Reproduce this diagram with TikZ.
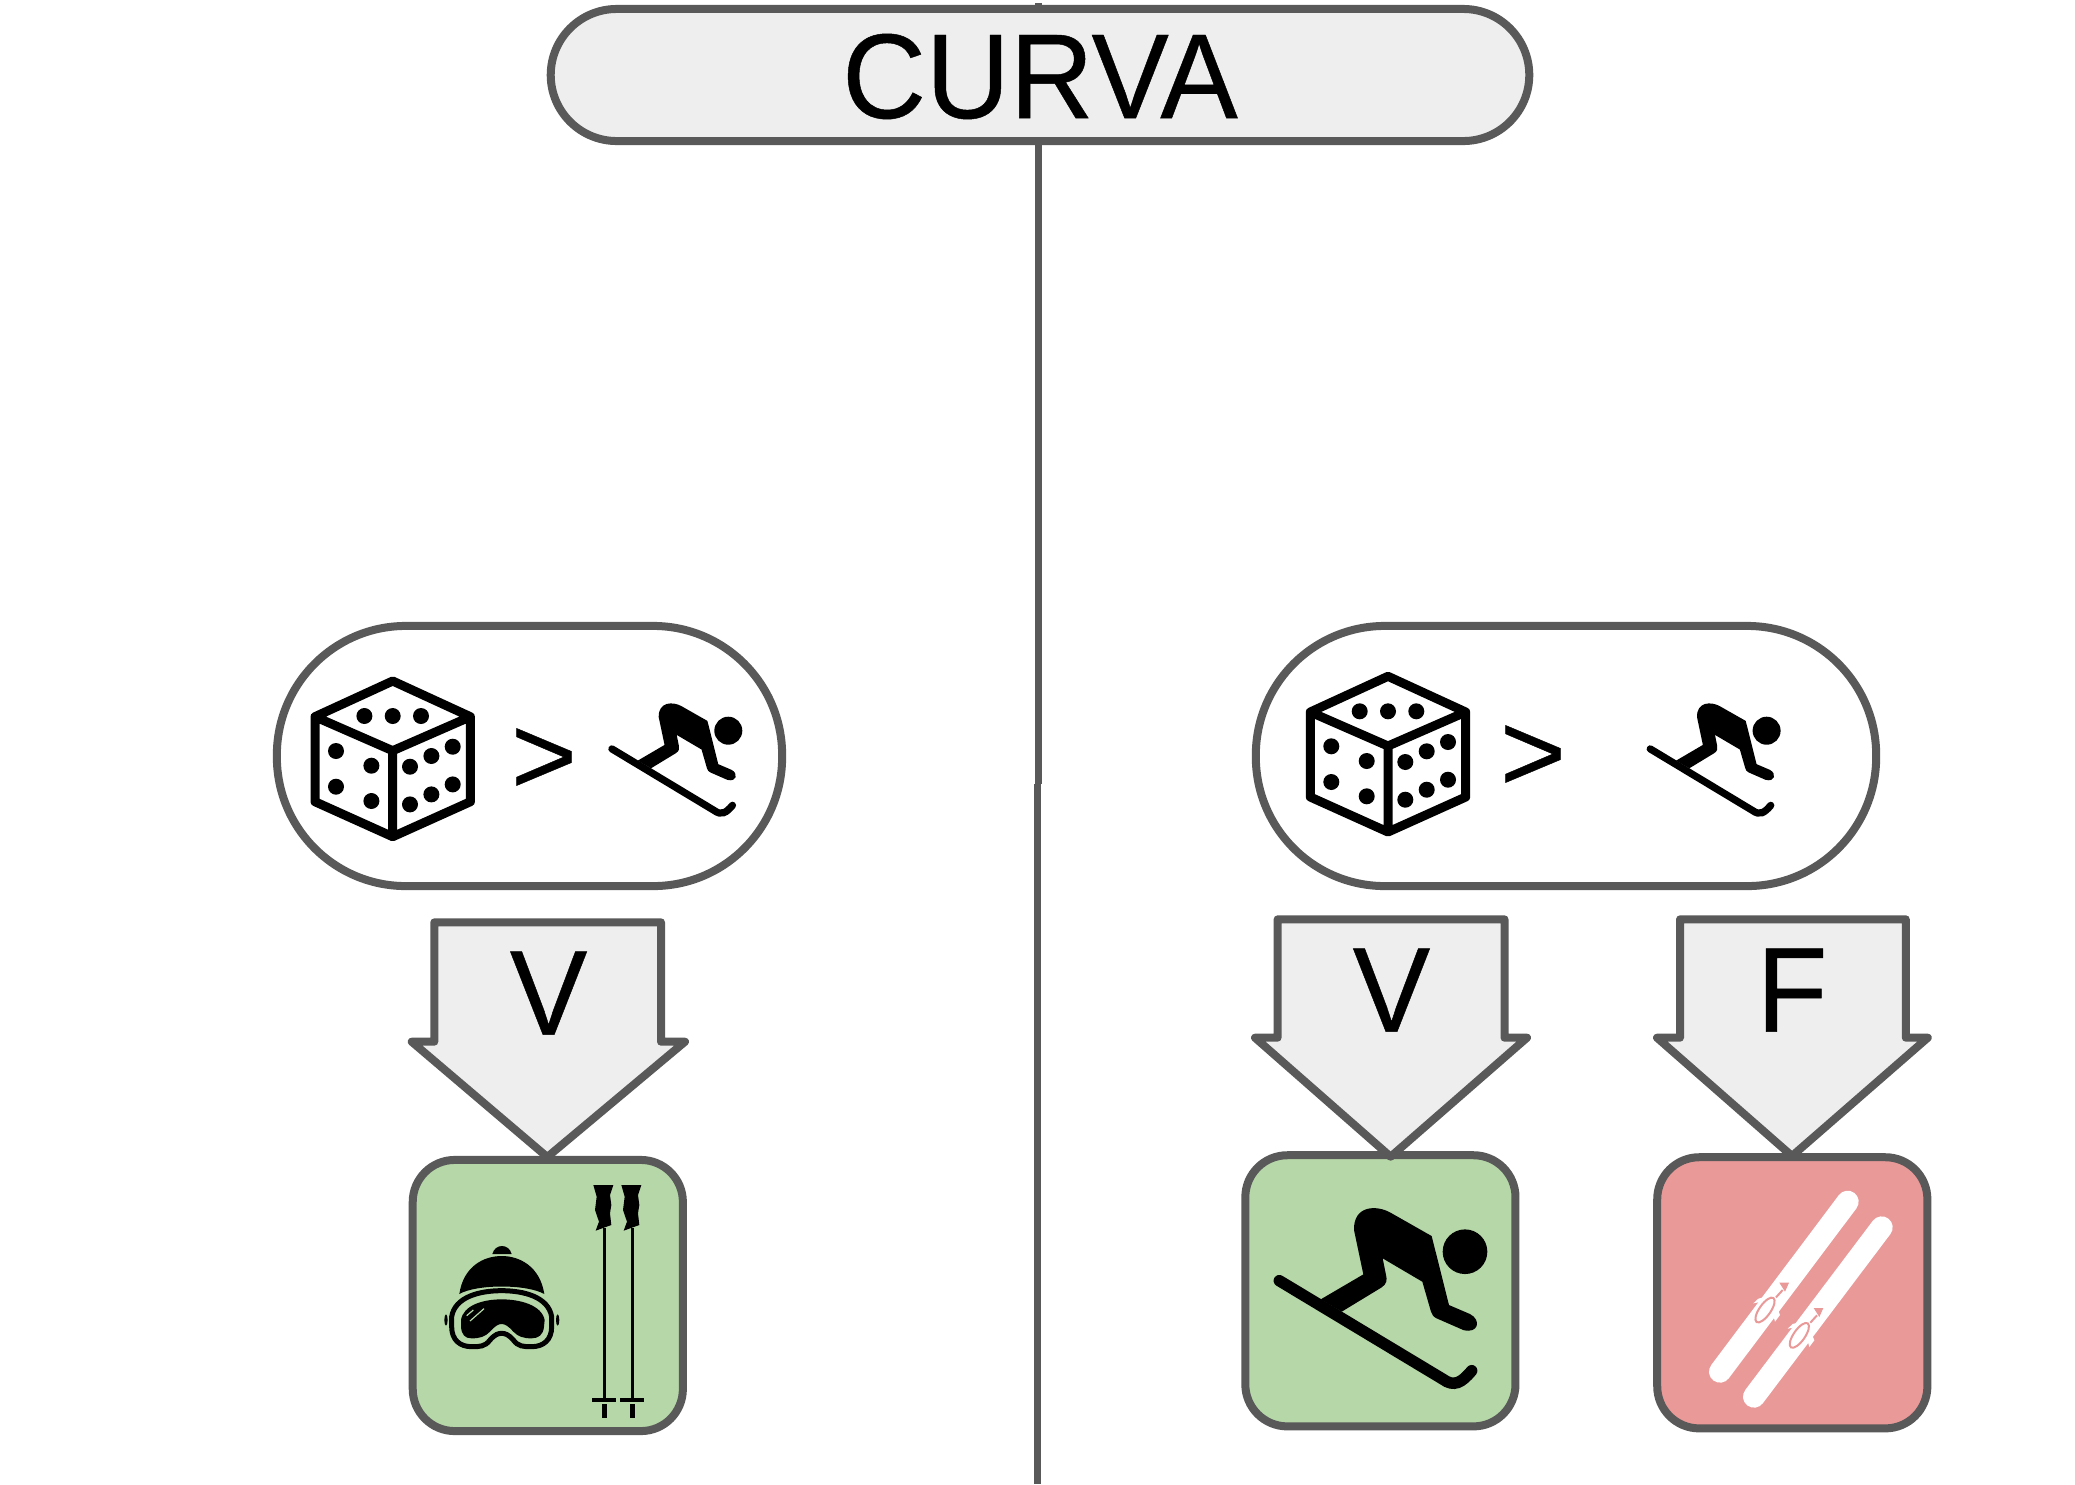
\documentclass[tikz,border=0pt]{standalone}
\usepackage{graphicx}
\usepackage{fontspec}
\setmainfont{Liberation Sans}[FakeBold=0.4]
\usepackage{tikz}
\usetikzlibrary{positioning}
\definecolor{edgegray}{HTML}{595959}
\definecolor{fillgray}{HTML}{EEEEEE}
\definecolor{okgreen}{HTML}{B6D7A8}
\definecolor{kored}{HTML}{EA9999}
\newcommand{\tall}[1]{\scalebox{1}[1.04]{#1}}
\tikzstyle{capsula}=[rectangle,draw=edgegray,line width=0.08cm,inner sep=0pt,
                rounded corners=1.29cm,minimum width=5.05cm,minimum height=2.6cm]
\tikzstyle{scatola}=[rectangle,draw=edgegray,line width=0.08cm,inner sep=0pt,
                rounded corners=0.42cm,minimum width=2.7cm,minimum height=2.71cm]
\tikzstyle{freccia}=[draw=edgegray,fill=fillgray,line width=0.08cm,line join=round]
\tikzstyle{lettera}=[inner sep=0pt,anchor=base,font=\fontsize{33}{40}\selectfont]
\tikzstyle{palo}=[line width=0.035cm]
\tikzset{
  pics/dado/.style={code={
    \draw[line width=0.09cm,line join=round] (0,-69.7) -- (77.7,-34) -- (77.7,51)
      -- (0,86) -- (-77.7,51) -- (-77.7,-34) -- cycle
      (-77.7,-34) -- (0,0) -- (77.7,-34) (0,0) -- (0,86);
    \foreach \px/\py in {-28.3/-34.7,0/-34.7,28.3/-34.7,
        -56.7/0.3,-21.3/15,-56.7/36,-21.3/50.3,
        17.3/16,38.7/5.3,60/-4,17.3/53.7,38.7/43.7,60/33.7}
      \fill (\px,\py) circle [radius=8];
  }},
  pics/sciatore/.style={code={
    \begin{scope}[scale=#1/3,shift={(-705,-335)}]
      \fill (705,335) circle [radius=67];
      \fill (605,288) -- (480,217) .. controls (440,195) and (370,195) .. (372,270)
        -- (400,403) -- (272,478) -- (335,515) -- (455,442)
        .. controls (470,432) and (472,420) .. (468,405) -- (458,355) -- (577,425)
        -- (603,515) .. controls (606,525) and (610,530) .. (620,535) -- (700,570)
        .. controls (745,582) and (755,540) .. (720,522) -- (657,495) -- cycle;
      \draw[line width=#1*0.115cm,line cap=round] (148,422) -- (638,717)
        .. controls (672,742) and (695,728) .. (725,692);
    \end{scope}
  }}
}
\begin{document}
\begin{tikzpicture}[x=0.01cm,y=-0.01cm]
\useasboundingbox (0,0) rectangle (2075,1484);
% center line
\coordinate (linetop) at (1038.4,3);
\coordinate (linemid) at (1038.4,784);
\coordinate (linekink) at (1037.4,784);
\coordinate (linebottom) at (1037.4,1484);
\draw[edgegray,line width=0.075cm] (linetop) -- (linemid);
\draw[edgegray,line width=0.075cm] (linekink) -- (linebottom);
\node[capsula,fill=fillgray,rounded corners=0.66cm,minimum width=9.78cm,minimum height=1.32cm,
  font=\fontsize{33}{40}\selectfont,text height=0.86cm,text depth=0pt] (curva) at (1040,75) {\tall{CURVA}};
% left branch
\node[capsula] (condsx) at (529.5,756) {};
\pic at (392.7,750.7) {dado};
\node[lettera,font=\fontsize{32}{40}\selectfont] (maggioresx) at (544,794) {>};
\pic at (728.3,730.7) {sciatore=0.627};
\node[scatola,fill=okgreen] (boxsx) at (547.8,1295.5) {};
\draw[freccia] (434.3,922.3) -- (661,922.3) -- (661,1041.7) -- (685,1041.7) -- (547.3,1157)
  -- (411.7,1041.7) -- (434.3,1041.7) -- cycle;
\node[lettera] (vsx) at (548.6,1034.7) {\tall{V}};
% right branch
\node[capsula,minimum width=6.2cm] (conddx) at (1566,756) {};
\pic at (1388,746) {dado};
\node[lettera,font=\fontsize{32}{40}\selectfont] (maggioredx) at (1533,791) {>};
\pic at (1766.6,730.7) {sciatore=0.627};
\node[scatola,fill=okgreen] (boxv) at (1380.4,1290.8) {};
\node[scatola,fill=kored] (boxf) at (1792.3,1292.8) {};
\draw[freccia] (1277.6,919.3) -- (1504.5,919.3) -- (1504.5,1037.7) -- (1527,1037.7) -- (1390.6,1156.7)
  -- (1255,1037.7) -- (1277.6,1037.7) -- cycle;
\node[lettera] (vdx) at (1391.5,1031.7) {\tall{V}};
\draw[freccia] (1680,919.3) -- (1905.8,919.3) -- (1905.8,1037.7) -- (1927.8,1037.7) -- (1792,1156)
  -- (1657,1037.7) -- (1680,1037.7) -- cycle;
\node[lettera] (fdx) at (1792,1031.7) {\tall{F}};
\pic at (1465,1251.7) {sciatore=1};
% hat, goggles and poles
\begin{scope}[shift={(400,1150)},scale=1/3]
  \fill (277,312) .. controls (285,280) and (327,280) .. (335,312) -- cycle;
  \fill (178,432) .. controls (190,350) and (250,318) .. (305,318)
    .. controls (360,318) and (420,350) .. (433,432)
    .. controls (380,402) and (230,402) .. cycle;
  \fill (138,510) ellipse [x radius=5,y radius=17];
  \fill (473,510) ellipse [x radius=5,y radius=17];
  \draw[line width=0.05cm] (155,500) .. controls (165,440) and (240,422) .. (305,422)
    .. controls (370,422) and (445,440) .. (455,500) -- (455,530)
    .. controls (455,570) and (430,590) .. (395,590)
    .. controls (370,590) and (355,590) .. (340,570)
    .. controls (325,553) and (315,550) .. (305,550)
    .. controls (295,550) and (285,553) .. (270,570)
    .. controls (255,590) and (240,590) .. (215,590)
    .. controls (180,590) and (155,570) .. (155,530) -- cycle;
  \fill (183,510) .. controls (190,465) and (250,448) .. (305,448)
    .. controls (360,448) and (425,465) .. (434,510) -- (432,530)
    .. controls (430,555) and (415,565) .. (395,565)
    .. controls (370,565) and (355,560) .. (340,545)
    .. controls (325,528) and (315,522) .. (305,522)
    .. controls (295,522) and (285,528) .. (270,545)
    .. controls (255,560) and (240,565) .. (215,565)
    .. controls (195,565) and (185,555) .. (183,530) -- cycle;
  \draw[okgreen,line width=0.012cm] (200,497) -- (220,480) (210,513) -- (252,476);
  \foreach \dx in {0,84} {
    \begin{scope}[shift={(\dx,0)}]
      \fill (580,105) -- (640,105) -- (630,135) -- (634,165) -- (630,190) -- (634,225)
        -- (587,242) -- (597,215) -- (585,180) -- (590,140) -- cycle;
      \draw[palo] (613,235) -- (613,745);
      \fill (577,744) rectangle (648,756);
      \fill (606,762) rectangle (620,805);
    \end{scope}
  }
\end{scope}
% skis
\begin{scope}[shift={(1640,1140)},scale=1/3]
  \draw[white,line width=0.22cm,line cap=round] (623,185) -- (240,695);
  \draw[white,line width=0.22cm,line cap=round] (725,262) -- (342,770);
  \foreach \dx/\dy in {0/0,103/76} {
    \begin{scope}[shift={(\dx,\dy)}]
      \fill[white] (340,490) -- (355,476) -- (385,468) -- (380,482) -- cycle;
      \fill[white] (412,505) -- (420,525) -- (405,545) -- (398,520) -- cycle;
      \draw[kored,line width=0.02cm] (375,510) ellipse [x radius=44,y radius=17,rotate=55];
      \draw[kored,line width=0.02cm] (428,450) -- (408,472);
      \fill[kored] (418,428) -- (447,428) -- (435,455) -- cycle;
    \end{scope}
  }
\end{scope}
\end{tikzpicture}
\end{document}
